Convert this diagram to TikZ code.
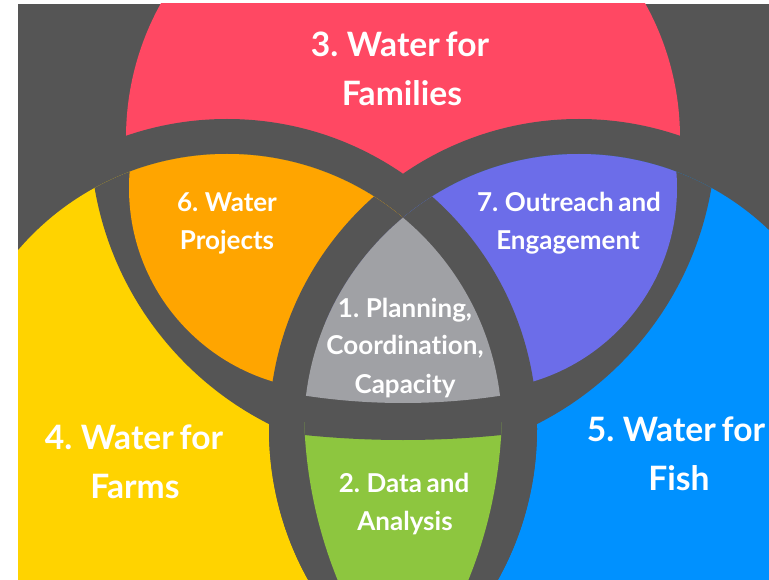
\documentclass[tikz,border=0pt]{standalone}
\usepackage{fontspec}
\setmainfont{Lato}[WordSpace=0.72, Ligatures=NoCommon]
\definecolor{bg}{RGB}{85,85,85}
\definecolor{cred}{RGB}{255,72,99}
\definecolor{cyel}{RGB}{255,211,0}
\definecolor{cblu}{RGB}{0,145,255}
\definecolor{corg}{RGB}{255,165,0}
\definecolor{cpur}{RGB}{108,109,233}
\definecolor{cgrn}{RGB}{141,198,63}
\definecolor{cgry}{RGB}{160,161,165}
\tikzset{
  bigtxt/.style={text=white, font=\fontsize{33.6}{40}\selectfont\bfseries, anchor=base, inner sep=0pt},
  smalltxt/.style={text=white, font=\fontsize{26}{32}\selectfont\bfseries, anchor=base, inner sep=0pt}
}
\begin{document}
\begin{tikzpicture}[x=1pt,y=-1pt]
\fill[white] (0,0) rectangle (769,580);
\useasboundingbox (0,0) rectangle (769,580);
\fill[bg] (18,4) rectangle (769,580);
\begin{scope}
  \clip (18,4) rectangle (769,580);
  % red (top)
  \fill[cred] (403,138) circle (277);
  \fill[bg] (227,429) circle (310) (579,429) circle (310);
  % yellow and blue bases
  \fill[cyel] (227,429) circle (275);
  \fill[cblu] (579,429) circle (275);
  \begin{scope}
    \clip (227,429) circle (275);
    \fill[bg] (416,133) circle (326) (579,429) circle (310);
  \end{scope}
  \begin{scope}
    \clip (579,429) circle (275);
    \fill[bg] (390,133) circle (326) (227,429) circle (310);
  \end{scope}
  % orange
  \begin{scope}
    \clip (227,429) circle (275);
    \clip (331,188) circle (202);
    \fill[corg] (0,0) rectangle (800,600);
  \end{scope}
  \begin{scope}
    \clip (227,429) circle (275);
    \fill[bg] (579,429) circle (310);
  \end{scope}
  % purple
  \begin{scope}
    \clip (579,429) circle (275);
    \clip (475,188) circle (202);
    \fill[cpur] (0,0) rectangle (800,600);
  \end{scope}
  \begin{scope}
    \clip (579,429) circle (275);
    \fill[bg] (227,429) circle (310);
  \end{scope}
  % centre
  \begin{scope}
    \clip (227,429) circle (275);
    \clip (579,429) circle (275);
    \fill[cgry] (403,-245) circle (648);
  \end{scope}
  % green
  \begin{scope}
    \clip (0,410) rectangle (800,600);
    \clip (764,407) circle (460);
    \clip (42,407) circle (460);
    \fill[cgrn] (0,0) rectangle (800,600);
    \fill[bg] (403,-523) circle (963);
  \end{scope}
\end{scope}
% labels
\node[bigtxt] (t3a) at (400,57) {3. Water for};
\node[bigtxt] (t3b) at (402,106) {Families};
\node[bigtxt] (t4a) at (134,449) {4. Water for};
\node[bigtxt] (t4b) at (135,498) {Farms};
\node[bigtxt] (t5a) at (676,441) {5. Water for};
\node[bigtxt] (t5b) at (679,490) {Fish};
\node[smalltxt] (t6a) at (227,212) {6. Water};
\node[smalltxt] (t6b) at (227,250) {Projects};
\node[smalltxt] (t7a) at (569,212) {7. Outreach and};
\node[smalltxt] (t7b) at (568,250) {Engagement};
\node[smalltxt] (t1a) at (405,317) {1. Planning,};
\node[smalltxt] (t1b) at (405,355) {Coordination,};
\node[smalltxt] (t1c) at (405,393) {Capacity};
\node[smalltxt] (t2a) at (404,492) {2. Data and};
\node[smalltxt] (t2b) at (405,530) {Analysis};
\end{tikzpicture}
\end{document}
